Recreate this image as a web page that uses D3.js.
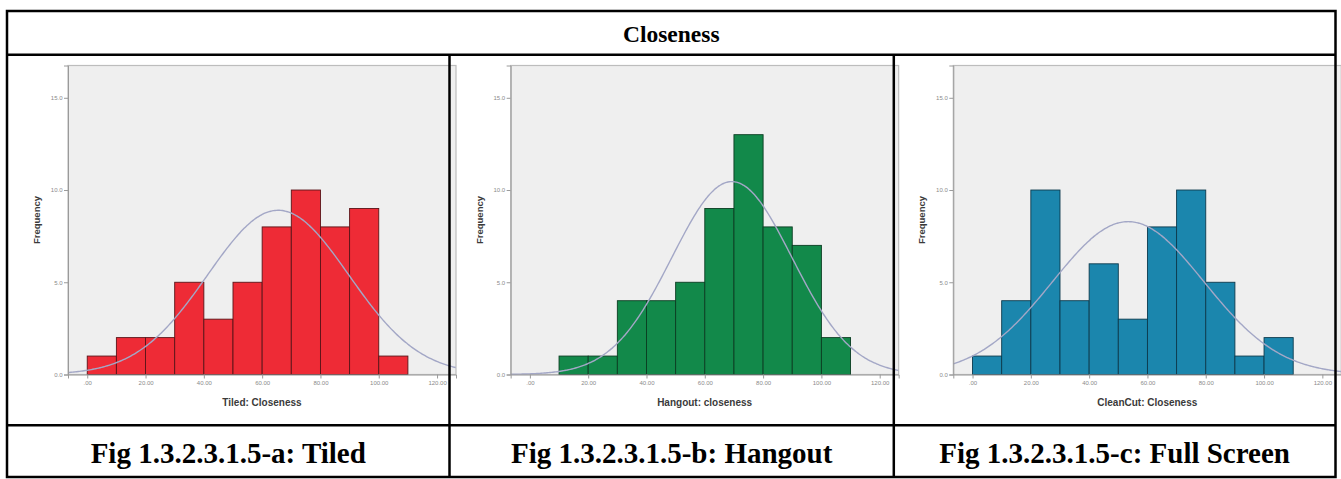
<!DOCTYPE html>
<html>
<head>
<meta charset="utf-8">
<script src="https://cdn.jsdelivr.net/npm/d3@7"></script>
<style>
  html, body { margin: 0; padding: 0; background: #fff; }
  svg { display: block; }
</style>
</head>
<body>
<svg id="fig" width="1341" height="479"></svg>
<script>
// ---- data -------------------------------------------------------------
const tableTitle = "Closeness";
const captions = ["Fig 1.3.2.3.1.5-a: Tiled", "Fig 1.3.2.3.1.5-b: Hangout", "Fig 1.3.2.3.1.5-c: Full Screen"];
const axisTitles = ["Tiled: Closeness", "Hangout: closeness", "CleanCut: Closeness"];

// histogram bins (lower edges, width 10)
const binStarts = [0, 10, 20, 30, 40, 50, 60, 70, 80, 90, 100];
const binWidth = 10;

// frequencies per bin
const tiledCounts    = [1, 2, 2, 5, 3, 5, 8, 10, 8, 9, 1];
const hangoutCounts  = [0, 1, 1, 4, 4, 5, 9, 13, 8, 7, 2];
const cleanCutCounts = [1, 4, 10, 4, 6, 3, 8, 10, 5, 1, 2];

// fitted normal curve parameters (mean, std. deviation, N)
const curveMeans = [65.5, 69.3, 53.4];
const curveSDs   = [24.2, 20.6, 26.0];
const curveN     = [54, 54, 54];

// tick values and labels
const xTickValues = [0, 20, 40, 60, 80, 100, 120];
const xTickLabels = [".00", "20.00", "40.00", "60.00", "80.00", "100.00", "120.00"];
const yTickValues = [0, 5, 10, 15];
const yTickLabels = ["0.0", "5.0", "10.0", "15.0"];

const barColors = ["#ee2b36", "#12894a", "#1b86ad"];
const barStrokes = ["#5a1418", "#0b3d22", "#0d3a4d"];

// ---- layout -----------------------------------------------------------
const svg = d3.select("#fig");
const panelStep = 442.65;
const plotLeft0 = 68, plotW = 388;
const plotTop = 65.5, plotBottom = 374.5;
const xDomain = [-6.6, 126.5];
const yDomain = [0, 16.75];

const series = [tiledCounts, hangoutCounts, cleanCutCounts];

const y = d3.scaleLinear().domain(yDomain).range([plotBottom, plotTop]);

series.forEach((counts, i) => {
  const left = plotLeft0 + i * panelStep;
  const x = d3.scaleLinear().domain(xDomain).range([left, left + plotW]);
  const g = svg.append("g");

  // plot background
  g.append("rect")
    .attr("x", left).attr("y", plotTop)
    .attr("width", plotW).attr("height", plotBottom - plotTop)
    .attr("fill", "#efefef").attr("stroke", "#bdbdbd").attr("stroke-width", 1.2);

  // bars
  const bins = binStarts.map((s, k) => ({ x0: s, x1: s + binWidth, n: counts[k] }))
    .filter(d => d.n > 0);
  g.selectAll("rect.bar").data(bins).join("rect")
    .attr("class", "bar")
    .attr("x", d => x(d.x0))
    .attr("width", d => x(d.x1) - x(d.x0))
    .attr("y", d => y(d.n))
    .attr("height", d => y(0) - y(d.n))
    .attr("fill", barColors[i])
    .attr("stroke", barStrokes[i]).attr("stroke-width", 0.9);

  // normal curve
  const mu = curveMeans[i], sd = curveSDs[i], scaleN = curveN[i] * binWidth;
  const pts = d3.range(xDomain[0], xDomain[1] + 0.01, 0.5).map(v => {
    const z = (v - mu) / sd;
    return [v, scaleN * Math.exp(-0.5 * z * z) / (sd * Math.sqrt(2 * Math.PI))];
  });
  g.append("path")
    .attr("d", d3.line().x(d => x(d[0])).y(d => y(d[1])).curve(d3.curveBasis)(pts))
    .attr("fill", "none").attr("stroke", "#a3a7c6").attr("stroke-width", 1.4);

  // y axis
  const yAxis = d3.axisLeft(y).tickValues(yTickValues)
    .tickFormat((d, k) => yTickLabels[k]).tickSize(4).tickPadding(1.5);
  const ya = g.append("g").attr("transform", `translate(${left},0)`).call(yAxis);
  ya.select(".domain").attr("stroke", "#9a9a9a");
  ya.selectAll(".tick line").attr("stroke", "#9a9a9a");
  ya.selectAll("text").attr("fill", "#8a8a8a").attr("font-size", 6)
    .attr("font-family", "Liberation Sans, Arial, sans-serif");

  // x axis
  const xAxis = d3.axisBottom(x).tickValues(xTickValues)
    .tickFormat((d, k) => xTickLabels[k]).tickSize(4).tickPadding(2);
  const xa = g.append("g").attr("transform", `translate(0,${plotBottom})`).call(xAxis);
  xa.select(".domain").attr("stroke", "#9a9a9a");
  xa.selectAll(".tick line").attr("stroke", "#9a9a9a");
  xa.selectAll("text").attr("fill", "#8a8a8a").attr("font-size", 6)
    .attr("font-family", "Liberation Sans, Arial, sans-serif");

  // axis titles
  g.append("text")
    .attr("x", left + plotW / 2).attr("y", 405.5)
    .attr("text-anchor", "middle")
    .attr("font-family", "Liberation Sans, Arial, sans-serif")
    .attr("font-weight", "bold").attr("font-size", 10)
    .attr("fill", "#3a3a3a")
    .text(axisTitles[i]);
  g.append("text")
    .attr("transform", `translate(${left - 28},220) rotate(-90)`)
    .attr("text-anchor", "middle")
    .attr("font-family", "Liberation Sans, Arial, sans-serif")
    .attr("font-weight", "bold").attr("font-size", 9.5)
    .attr("fill", "#3a3a3a")
    .text("Frequency");
});

// ---- table frame ------------------------------------------------------
const T = { left: 7, right: 1335.5, top: 11, headLine: 54.7, capLine: 425.3, bottom: 477 };
const cols = [T.left, 449.5, 893.8, T.right];
const lines = svg.append("g").attr("stroke", "#000").attr("stroke-width", 2.5);
lines.append("rect")
  .attr("x", T.left).attr("y", T.top)
  .attr("width", T.right - T.left).attr("height", T.bottom - T.top)
  .attr("fill", "none");
lines.append("line").attr("x1", T.left).attr("x2", T.right).attr("y1", T.headLine).attr("y2", T.headLine);
lines.append("line").attr("x1", T.left).attr("x2", T.right).attr("y1", T.capLine).attr("y2", T.capLine);
[cols[1], cols[2]].forEach(cx => {
  lines.append("line").attr("x1", cx).attr("x2", cx).attr("y1", T.headLine).attr("y2", T.bottom);
});

svg.append("text")
  .attr("x", (T.left + T.right) / 2).attr("y", 41.5)
  .attr("text-anchor", "middle")
  .attr("font-family", "Liberation Serif, Times New Roman, serif")
  .attr("font-weight", "bold").attr("font-size", 23.5)
  .text(tableTitle);

captions.forEach((c, i) => {
  svg.append("text")
    .attr("x", (cols[i] + cols[i + 1]) / 2).attr("y", 462.5)
    .attr("text-anchor", "middle")
    .attr("font-family", "Liberation Serif, Times New Roman, serif")
    .attr("font-weight", "bold").attr("font-size", 29)
    .text(c);
});
</script>
</body>
</html>
